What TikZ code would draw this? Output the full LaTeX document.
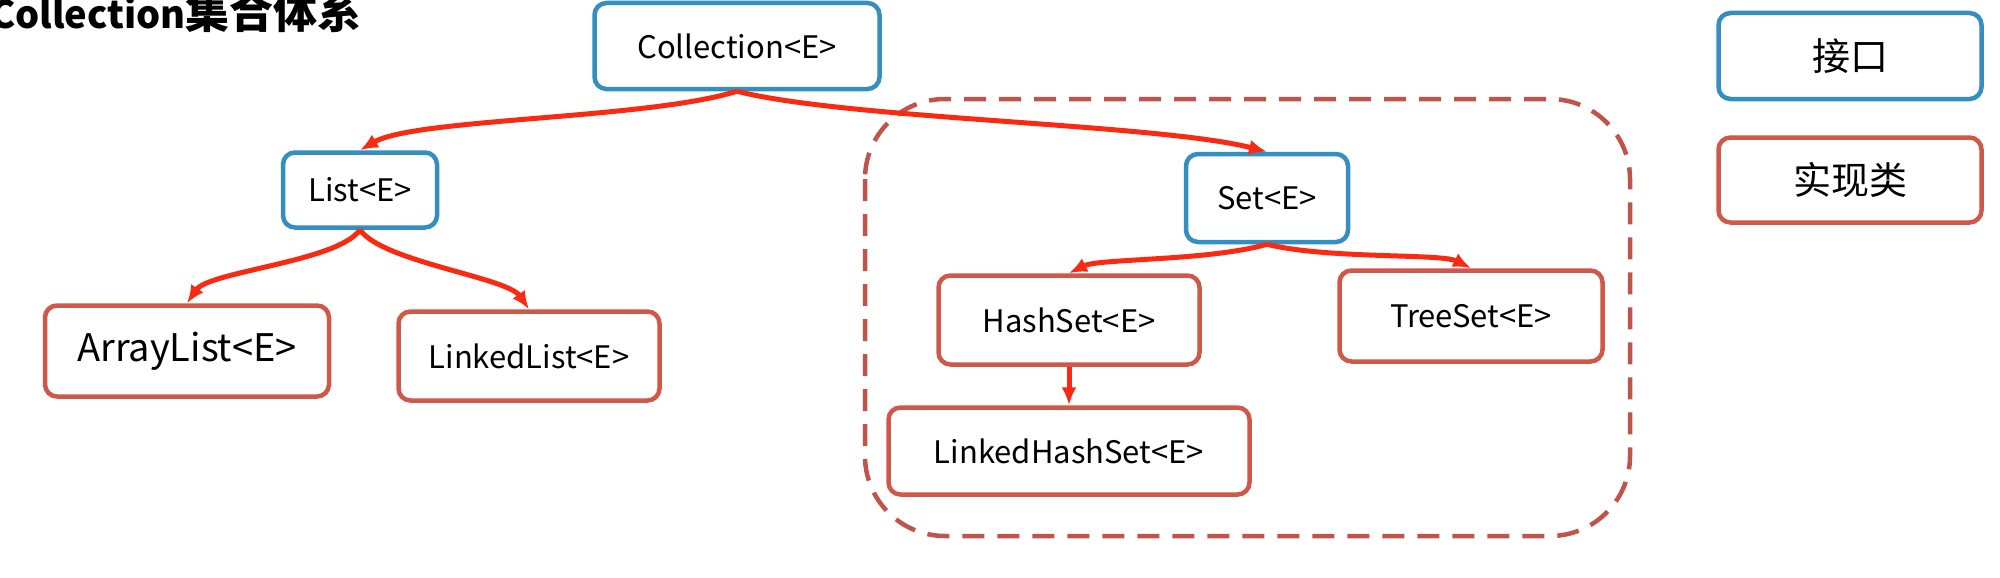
\documentclass[tikz,border=0pt]{standalone}
\usepackage{fontspec}
\setmainfont{Noto Sans CJK SC}
\usetikzlibrary{arrows.meta,positioning}

\definecolor{ifblue}{RGB}{52,142,192}
\definecolor{clsred}{RGB}{208,88,72}
\definecolor{linkred}{RGB}{250,42,18}
\definecolor{groupred}{RGB}{192,84,74}

\begin{document}
\begin{tikzpicture}[x=1pt,y=-1pt,>={Latex[length=18pt,width=15pt]},
    iface/.style={draw=ifblue, line width=4.5pt, rounded corners=12pt, fill=white,
        font=\fontsize{31}{34}\selectfont},
    impl/.style={draw=clsred, line width=4.5pt, rounded corners=12pt, fill=white,
        font=\fontsize{31}{34}\selectfont},
    link/.style={->, draw=linkred, line width=5pt}]
    \useasboundingbox (0,0) rectangle (2000,578);

    \node[anchor=base west, font=\bfseries, inner sep=0pt] (title) at (-10,29)
        {\fontsize{38}{40}\selectfont Collection\fontsize{44}{46}\selectfont 集合体系};

    % group of the sets
    \draw[groupred, line width=4.5pt, dash pattern=on 22pt off 13pt, rounded corners=80pt]
        (865,99) rectangle (1630,536);

    \node[iface, minimum width=285, minimum height=86] (coll) at (737,46) {Collection<E>};
    \node[iface, minimum width=154, minimum height=75] (list) at (360,190) {List<E>};
    \node[impl, minimum width=284, minimum height=91, font=\fontsize{38}{40}\selectfont] (alist) at (187,351) {ArrayList<E>};
    \node[impl, minimum width=261, minimum height=89] (llist) at (529,356) {LinkedList<E>};
    \node[iface, minimum width=162, minimum height=88] (set) at (1267,198) {Set<E>};
    \node[impl, minimum width=261, minimum height=89] (hset) at (1069,320) {HashSet<E>};
    \node[impl, minimum width=263, minimum height=91] (tset) at (1471,316) {TreeSet<E>};
    \node[impl, minimum width=361, minimum height=87] (lhset) at (1069,451) {LinkedHashSet<E>};

    % legend
    \node[iface, minimum width=263, minimum height=86, font=\fontsize{38}{40}\selectfont] (kif) at (1850,56) {接口};
    \node[impl, minimum width=263, minimum height=85, font=\fontsize{38}{40}\selectfont] (kimpl) at (1850,180) {实现类};

    \draw[link] (coll.south) .. controls +(-90,28) and +(55,-32) .. (list.north);
    \draw[link] (coll.south) .. controls +(110,28) and +(-110,-28) .. (set.north);
    \draw[link] (list.south) .. controls +(-22,32) and +(22,-32) .. (alist.north);
    \draw[link] (list.south) .. controls +(22,32) and +(-22,-32) .. (llist.north);
    \draw[link] (set.south) .. controls +(-60,17) and +(30,-15) .. (hset.north);
    \draw[link] (set.south) .. controls +(60,15) and +(-30,-15) .. (tset.north);
    \draw[link] (hset.south) -- (lhset.north);
\end{tikzpicture}
\end{document}
